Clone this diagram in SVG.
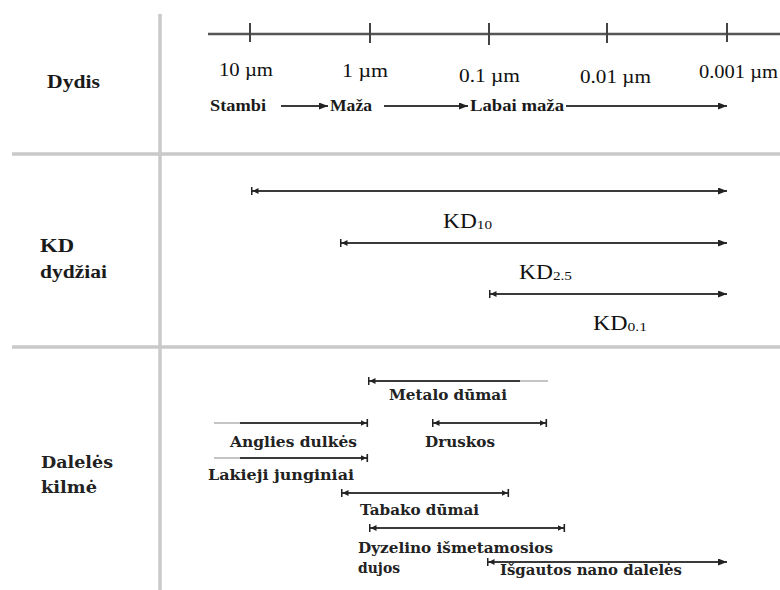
<svg xmlns="http://www.w3.org/2000/svg" width="780" height="590" viewBox="0 0 780 590">
<style>
.div{stroke:#c9c9c9;stroke-width:3.5;fill:none}
.axis{stroke:#555;stroke-width:2.5;fill:none}
.tick{stroke:#444;stroke-width:2;fill:none}
.ln{stroke:#3a3a3a;stroke-width:2;fill:none}
.lt{stroke:#c4c4c4;stroke-width:2;fill:none}
.num{font-family:"Liberation Serif","Times New Roman",serif;font-size:19px;fill:#111}
.tb{font-family:"Liberation Serif","Times New Roman",serif;font-weight:bold;fill:#1a1a1a}
.cb{font-family:"DejaVu Serif",serif;font-weight:bold;fill:#222}
.kd{font-family:"Liberation Serif","Times New Roman",serif;font-size:20px;fill:#111}
</style>
<defs>
<marker id="arr" viewBox="0 0 9 7" refX="9" refY="3.5" markerWidth="9" markerHeight="7" markerUnits="userSpaceOnUse" orient="auto">
<path d="M0,0 L9,3.5 L0,7 Z" fill="#222"/>
</marker>
<marker id="bar" viewBox="0 0 8 8" refX="7.5" refY="4" markerWidth="8" markerHeight="8" markerUnits="userSpaceOnUse" orient="auto-start-reverse">
<path d="M0,1 L6,4 L0,7 Z" fill="#222"/>
<rect x="6" y="0" width="1.6" height="8" fill="#222"/>
</marker>
</defs>
<rect width="780" height="590" fill="#fff"/>

<g id="grid">
<line class="div" x1="160" y1="14" x2="160" y2="590"/>
<line class="div" x1="12" y1="154" x2="780" y2="154"/>
<line class="div" x1="12" y1="347" x2="780" y2="347"/>
</g>

<g id="row-labels">
<text class="tb" x="47" y="88" font-size="19" textLength="53" lengthAdjust="spacingAndGlyphs">Dydis</text>
<text class="tb" x="40" y="252" font-size="19" textLength="34" lengthAdjust="spacingAndGlyphs">KD</text>
<text class="tb" x="40" y="278" font-size="19" textLength="67" lengthAdjust="spacingAndGlyphs">dydžiai</text>
<text class="cb" x="41" y="468" font-size="17" textLength="72" lengthAdjust="spacingAndGlyphs">Dalelės</text>
<text class="cb" x="41" y="493" font-size="17" textLength="56" lengthAdjust="spacingAndGlyphs">kilmė</text>
</g>

<g id="scale">
<line class="axis" x1="208" y1="34" x2="780" y2="34"/>
<line class="tick" x1="250" y1="23" x2="250" y2="42"/>
<line class="tick" x1="370" y1="23" x2="370" y2="43"/>
<line class="tick" x1="489" y1="23" x2="489" y2="45"/>
<line class="tick" x1="607" y1="23" x2="607" y2="43"/>
<line class="tick" x1="727" y1="23" x2="727" y2="42"/>
<text class="num" x="219" y="76" textLength="54" lengthAdjust="spacingAndGlyphs">10 µm</text>
<text class="num" x="342" y="77" textLength="46" lengthAdjust="spacingAndGlyphs">1 µm</text>
<text class="num" x="459" y="82" textLength="61" lengthAdjust="spacingAndGlyphs">0.1 µm</text>
<text class="num" x="580" y="83" textLength="71" lengthAdjust="spacingAndGlyphs">0.01 µm</text>
<text class="num" x="699" y="78" textLength="79" lengthAdjust="spacingAndGlyphs">0.001 µm</text>
</g>

<g id="size-classes">
<text class="tb" x="210" y="111" font-size="17" textLength="56" lengthAdjust="spacingAndGlyphs">Stambi</text>
<text class="tb" x="330" y="111" font-size="17" textLength="42" lengthAdjust="spacingAndGlyphs">Maža</text>
<text class="tb" x="470" y="111" font-size="17" textLength="94" lengthAdjust="spacingAndGlyphs">Labai maža</text>
</g>

<g id="kd-labels">
<text class="kd" x="443" y="228" textLength="49" lengthAdjust="spacingAndGlyphs">KD<tspan font-size="13" dy="1">10</tspan></text>
<text class="kd" x="519" y="279" textLength="53" lengthAdjust="spacingAndGlyphs">KD<tspan font-size="13" dy="1">2.5</tspan></text>
<text class="kd" x="593" y="330" textLength="54" lengthAdjust="spacingAndGlyphs">KD<tspan font-size="13" dy="1">0.1</tspan></text>
</g>

<g id="origin-labels">
<text class="cb" x="389" y="400" font-size="15" textLength="118" lengthAdjust="spacingAndGlyphs">Metalo dūmai</text>
<text class="cb" x="230" y="447" font-size="15" textLength="127" lengthAdjust="spacingAndGlyphs">Anglies dulkės</text>
<text class="cb" x="425" y="447" font-size="15" textLength="70" lengthAdjust="spacingAndGlyphs">Druskos</text>
<text class="cb" x="208" y="480" font-size="15" textLength="146" lengthAdjust="spacingAndGlyphs">Lakieji junginiai</text>
<text class="cb" x="360" y="515" font-size="15" textLength="119" lengthAdjust="spacingAndGlyphs">Tabako dūmai</text>
<text class="cb" x="358" y="553" font-size="15" textLength="195" lengthAdjust="spacingAndGlyphs">Dyzelino išmetamosios</text>
<text class="cb" x="358" y="573" font-size="15" textLength="42" lengthAdjust="spacingAndGlyphs">dujos</text>
<text class="cb" x="500" y="575" font-size="15" textLength="182" lengthAdjust="spacingAndGlyphs">Išgautos nano dalelės</text>
</g>

<g id="connectors">
<line class="ln" x1="281" y1="106" x2="328" y2="106" marker-end="url(#arr)"/>
<line class="ln" x1="384" y1="106" x2="468" y2="106" marker-end="url(#arr)"/>
<line class="ln" x1="566" y1="106" x2="727" y2="106" marker-end="url(#arr)"/>

<line class="ln" x1="251" y1="191" x2="727" y2="191" marker-start="url(#bar)" marker-end="url(#arr)"/>
<line class="ln" x1="340" y1="243" x2="727" y2="243" marker-start="url(#bar)" marker-end="url(#arr)"/>
<line class="ln" x1="489" y1="294" x2="727" y2="294" marker-start="url(#bar)" marker-end="url(#arr)"/>

<line class="lt" x1="518" y1="381" x2="548" y2="381"/>
<line class="ln" x1="368" y1="381" x2="520" y2="381" marker-start="url(#bar)"/>
<line class="lt" x1="214" y1="423" x2="242" y2="423"/>
<line class="ln" x1="240" y1="423" x2="368" y2="423" marker-end="url(#bar)"/>
<line class="ln" x1="432" y1="423" x2="547" y2="423" marker-start="url(#bar)" marker-end="url(#bar)"/>
<line class="lt" x1="214" y1="458" x2="242" y2="458"/>
<line class="ln" x1="240" y1="458" x2="368" y2="458" marker-end="url(#bar)"/>
<line class="ln" x1="341" y1="493" x2="509" y2="493" marker-start="url(#bar)" marker-end="url(#bar)"/>
<line class="ln" x1="369" y1="528" x2="565" y2="528" marker-start="url(#bar)" marker-end="url(#bar)"/>
<line class="ln" x1="487" y1="562" x2="727" y2="562" marker-start="url(#bar)" marker-end="url(#arr)"/>
</g>
</svg>
